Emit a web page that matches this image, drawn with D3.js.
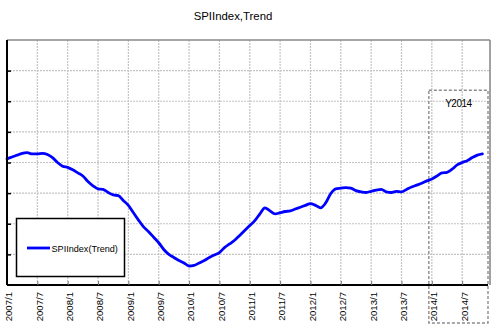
<!DOCTYPE html>
<html>
<head>
<meta charset="utf-8">
<script src="https://cdn.jsdelivr.net/npm/d3@7"></script>
<style>
  html, body { margin: 0; padding: 0; background: #fff; }
  svg { display: block; font-family: "Liberation Sans", Arial, Helvetica, sans-serif; }
</style>
</head>
<body>
<svg id="chart" width="492" height="327"></svg>
<script>
// Monthly trend of the SPI index, January 2007 onward
const startYear = 2007;
const trend = [
  100.6, 100.9, 101.2, 101.5, 101.6, 101.4, 101.4, 101.5, 101.3, 100.8, 100.0, 99.4,
  99.2, 98.8, 98.3, 97.8, 96.9, 96.2, 95.7, 95.6, 95.1, 94.7, 94.6, 93.8,
  93.0, 91.8, 90.6, 89.5, 88.7, 87.8, 86.9, 85.8, 85.0, 84.5, 84.0, 83.6,
  83.1, 83.2, 83.6, 84.0, 84.5, 84.9, 85.3, 86.1, 86.7, 87.3, 88.1, 88.9,
  89.7, 90.5, 91.6, 92.6, 92.1, 91.6, 91.8, 92.0, 92.1, 92.4, 92.7, 93.0,
  93.3, 93.0, 92.6, 93.4, 94.9, 95.7, 95.8, 95.9, 95.8, 95.4, 95.2, 95.1,
  95.3, 95.5, 95.6, 95.2, 95.1, 95.3, 95.2, 95.6, 96.0, 96.3, 96.6, 97.0,
  97.3, 97.8, 98.3, 98.4, 98.9, 99.6, 100.0, 100.3, 100.8, 101.2, 101.4
];
// Half-year tick labels and their month offsets from January 2007
const tickLabels = ["2007/1","2007/7","2008/1","2008/7","2009/1","2009/7","2010/1","2010/7",
                    "2011/1","2011/7","2012/1","2012/7","2013/1","2013/7","2014/1","2014/7"];
const tickMonths = [0, 6, 12, 18, 24, 30, 36, 42, 48, 54, 60, 66, 72, 78, 84, 90];
const yTicks = [80, 85, 90, 95, 100, 105, 110, 115, 120];
// Highlighted year and its month span
const highlightLabel = "Y2014";
const highlightMonths = [84, 95.5];
const highlightTop = 111.8;

const seriesName = "SPIIndex(Trend)";
const title = "SPIIndex,Trend";

const svg = d3.select("#chart");
const plot = { left: 7, right: 490, top: 40, bottom: 285 };

const x = d3.scaleLinear().domain([0, 95.5]).range([plot.left, plot.right]);
const y = d3.scaleLinear().domain([80, 120]).range([plot.bottom, plot.top]);

// Title
svg.append("text")
  .attr("x", 233).attr("y", 19.5)
  .attr("text-anchor", "middle")
  .attr("font-size", "11.4px")
  .attr("fill", "#000")
  .text(title);

// Grid
const grid = svg.append("g").attr("stroke", "#c4c4c4").attr("stroke-width", 1.2)
  .attr("stroke-dasharray", "2,1");
grid.selectAll(".vg").data(tickMonths.slice(1)).join("line")
  .attr("x1", d => x(d)).attr("x2", d => x(d))
  .attr("y1", plot.top).attr("y2", plot.bottom);
grid.selectAll(".hg").data(yTicks.slice(1, -1)).join("line")
  .attr("x1", plot.left).attr("x2", plot.right)
  .attr("y1", d => y(d)).attr("y2", d => y(d));

// Frame: grey top and right, black left and bottom axes
svg.append("line").attr("x1", plot.left).attr("x2", plot.right)
  .attr("y1", plot.top).attr("y2", plot.top)
  .attr("stroke", "#8a8a8a").attr("stroke-width", 1.6);
svg.append("line").attr("x1", plot.right).attr("x2", plot.right)
  .attr("y1", plot.top).attr("y2", plot.bottom)
  .attr("stroke", "#8a8a8a").attr("stroke-width", 1.6);

// Highlighted year box
const hx0 = x(highlightMonths[0]) - 3;
const hx1 = x(highlightMonths[1]) - 2;
const hy0 = y(highlightTop);
svg.append("rect")
  .attr("x", hx0).attr("y", hy0)
  .attr("width", hx1 - hx0).attr("height", 323 - hy0)
  .attr("fill", "none").attr("stroke", "#8c8c8c")
  .attr("stroke-width", 1.4).attr("stroke-dasharray", "3,2");
svg.append("text")
  .attr("x", (hx0 + hx1) / 2).attr("y", hy0 + 16.5)
  .attr("text-anchor", "middle")
  .attr("font-size", "10px")
  .attr("letter-spacing", "-0.5px")
  .attr("fill", "#000")
  .text(highlightLabel);

// Trend line
const line = d3.line()
  .x((d, i) => x(i))
  .y(d => y(d))
  .curve(d3.curveMonotoneX);
svg.append("path")
  .datum(trend)
  .attr("d", line)
  .attr("fill", "none")
  .attr("stroke", "#0000ff")
  .attr("stroke-width", 2.8)
  .attr("stroke-linejoin", "round")
  .attr("stroke-linecap", "round");

// Bottom axis with inward ticks and vertical labels
const xAxis = d3.axisBottom(x)
  .tickValues(tickMonths)
  .tickFormat((d, i) => tickLabels[i])
  .tickSize(-4)
  .tickPadding(0);
const gx = svg.append("g")
  .attr("transform", `translate(0,${plot.bottom})`)
  .call(xAxis);
gx.select(".domain").attr("stroke", "#000").attr("stroke-width", 2)
  .attr("d", `M${plot.left},0H${plot.right - 2}`);
gx.selectAll(".tick line").attr("stroke", "#777").attr("stroke-width", 1);
gx.selectAll(".tick text")
  .attr("font-size", "9.6px")
  .attr("font-family", "'Liberation Sans', Arial, sans-serif")
  .attr("fill", "#000")
  .attr("text-anchor", "end")
  .attr("transform", "translate(1.5,7) rotate(-90)")
  .attr("x", 0).attr("y", 0).attr("dy", "0.35em");

// Left axis with inward ticks, no labels
const yAxis = d3.axisLeft(y)
  .tickValues(yTicks.slice(1, -1))
  .tickFormat("")
  .tickSize(-4);
const gy = svg.append("g")
  .attr("transform", `translate(${plot.left},0)`)
  .call(yAxis);
gy.select(".domain").attr("stroke", "#000").attr("stroke-width", 2)
  .attr("d", `M0,${plot.top}V${plot.bottom}`);
gy.selectAll(".tick line").attr("stroke", "#000").attr("stroke-width", 1.5);

// Legend
const legend = svg.append("g");
legend.append("rect")
  .attr("x", 16.5).attr("y", 218.5).attr("width", 108).attr("height", 58)
  .attr("fill", "#fff").attr("stroke", "#000").attr("stroke-width", 1.5);
legend.append("line")
  .attr("x1", 27).attr("x2", 50).attr("y1", 248).attr("y2", 248)
  .attr("stroke", "#0000ff").attr("stroke-width", 2.8);
legend.append("text")
  .attr("x", 51.5).attr("y", 251.5)
  .attr("font-size", "9.1px")
  .attr("fill", "#000")
  .text(seriesName);
</script>
</body>
</html>
